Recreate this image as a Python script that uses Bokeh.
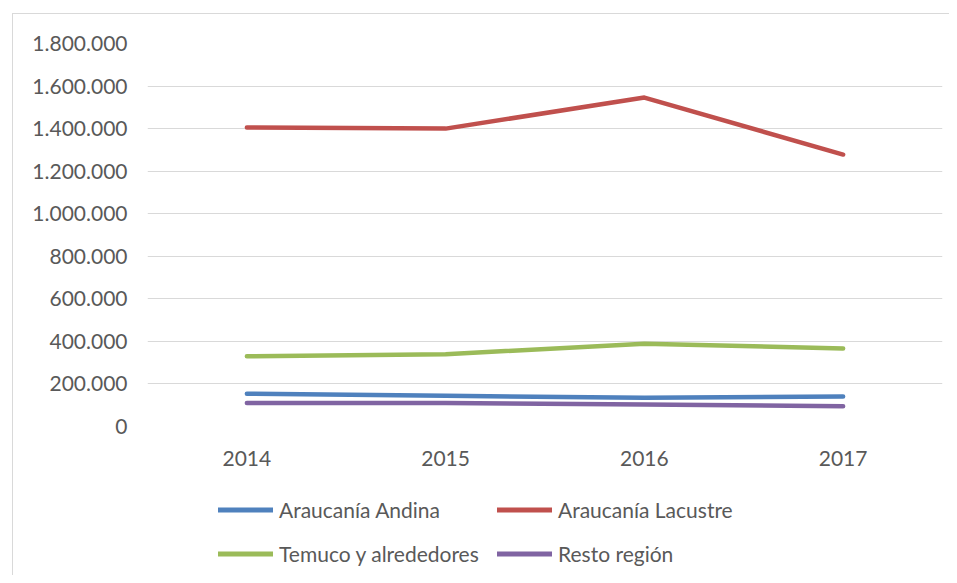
from bokeh.plotting import figure
from bokeh.models import Range1d, FixedTicker, Legend, LegendItem, InlineStyleSheet
from bokeh.layouts import column
from bokeh.embed import file_html
from bokeh.resources import INLINE

years = ["2014", "2015", "2016", "2017"]
andina = [154000, 144000, 135000, 141000]
lacustre = [1405000, 1400000, 1546000, 1278000]
temuco = [330000, 340000, 389000, 367000]
resto = [111000, 110000, 103000, 95000]

series_names = ["Araucanía Andina", "Araucanía Lacustre", "Temuco y alrededores", "Resto región"]
series_colors = ["#4F81BD", "#C0504D", "#9BBB59", "#8064A2"]

y_ticks = [0, 200000, 400000, 600000, 800000, 1000000, 1200000, 1400000, 1600000, 1800000]
y_tick_labels = ["0", "200.000", "400.000", "600.000", "800.000", "1.000.000",
                 "1.200.000", "1.400.000", "1.600.000", "1.800.000"]

FONT = "Lato"
TXT = "#595959"
LW = 4.5

x = list(range(len(years)))

# ---- main chart ----
p = figure(width=949, height=470, output_backend="svg", toolbar_location=None,
           x_range=Range1d(-0.5, len(years) - 0.5), y_range=Range1d(0, 1800000),
           min_border_left=147, min_border_right=7, min_border_top=43, min_border_bottom=44)
p.outline_line_color = None
p.background_fill_color = "white"
p.border_fill_color = "white"

for data, color in zip([andina, lacustre, temuco, resto], series_colors):
    p.line(x, data, line_color=color, line_width=LW, line_cap="round", line_join="round")

p.xaxis.ticker = FixedTicker(ticks=x)
p.xaxis.major_label_overrides = {i: y for i, y in enumerate(years)}
p.yaxis.ticker = FixedTicker(ticks=y_ticks)
p.yaxis.major_label_overrides = {t: l for t, l in zip(y_ticks, y_tick_labels)}
for ax in (p.xaxis, p.yaxis):
    ax.axis_line_color = None
    ax.major_tick_line_color = None
    ax.minor_tick_line_color = None
    ax.major_tick_out = 0
    ax.major_tick_in = 0
    ax.major_label_text_font = FONT
    ax.major_label_text_font_size = "21px"
    ax.major_label_text_color = TXT
p.xaxis.major_label_standoff = 24
p.yaxis.major_label_standoff = 20

p.xgrid.grid_line_color = None
p.ygrid.grid_line_color = "#d9d9d9"
p.ygrid.grid_line_width = 1
p.ygrid.ticker = FixedTicker(ticks=y_ticks)

# ---- legend strip ----
q = figure(width=949, height=105, output_backend="svg", toolbar_location=None,
           x_range=Range1d(0, 1), y_range=Range1d(0, 1),
           x_axis_location=None, y_axis_location=None,
           min_border_left=0, min_border_right=0, min_border_top=0, min_border_bottom=0)
q.outline_line_color = None
q.grid.visible = False
q.background_fill_color = "white"
q.border_fill_color = "white"

# legend-only renderers (placed outside the visible range)
dummies = [q.line([-5, -4], [-5, -4], line_color=c, line_width=LW + 0.5, line_cap="round")
           for c in series_colors]

def make_legend(idx, loc):
    return Legend(items=[LegendItem(label=series_names[i], renderers=[dummies[i]]) for i in idx],
                  location=loc, orientation="vertical",
                  label_text_font=FONT, label_text_font_size="21px", label_text_color=TXT,
                  glyph_width=55, glyph_height=31, label_height=31,
                  label_standoff=6, spacing=13, padding=0, margin=0,
                  border_line_color=None, background_fill_alpha=0)

q.add_layout(make_legend([0, 2], (71, 6)), "center")
q.add_layout(make_legend([1, 3], (350, 6)), "center")

# chart-area border (left and top edges visible in the reference)
border_css = InlineStyleSheet(css="""
:host { position: relative; }
:host::after {
  content: ""; position: absolute; left: 12px; top: 13px; right: 0; bottom: 0;
  border-left: 1.5px solid #d9d9d9; border-top: 1.5px solid #d9d9d9;
  pointer-events: none;
}
""")

layout = column(p, q, spacing=0, stylesheets=[border_css])
open("out.html", "w").write(file_html(layout, INLINE))
